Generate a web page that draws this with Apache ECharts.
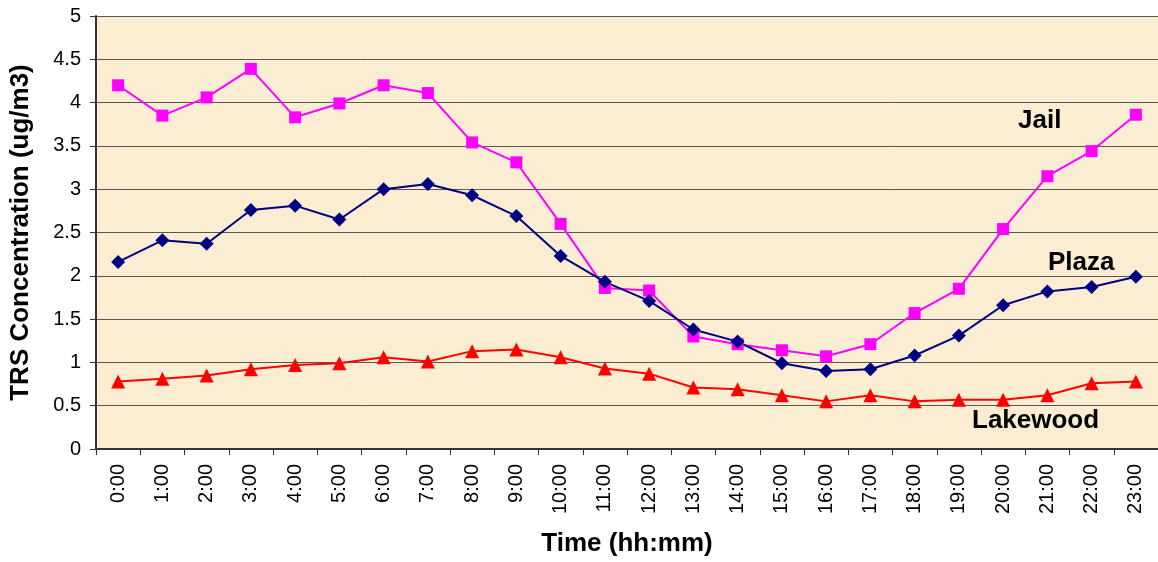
<!DOCTYPE html>
<html>
<head>
<meta charset="utf-8">
<script src="https://cdn.jsdelivr.net/npm/echarts@6/dist/echarts.min.js"></script>
<style>
  html, body { margin: 0; padding: 0; background: #ffffff; }
  #chart { width: 1158px; height: 562px; }
</style>
</head>
<body>
<div id="chart"></div>
<script>
// Hourly TRS concentrations at three monitoring sites
const hours = ['0:00','1:00','2:00','3:00','4:00','5:00','6:00','7:00','8:00','9:00','10:00','11:00',
               '12:00','13:00','14:00','15:00','16:00','17:00','18:00','19:00','20:00','21:00','22:00','23:00'];

const jail = [4.20, 3.85, 4.06, 4.39, 3.83, 3.99, 4.20, 4.11, 3.54, 3.31, 2.60, 1.86,
              1.83, 1.30, 1.21, 1.14, 1.07, 1.21, 1.57, 1.85, 2.54, 3.15, 3.44, 3.86];

const plaza = [2.16, 2.41, 2.37, 2.76, 2.81, 2.65, 3.00, 3.06, 2.93, 2.69, 2.23, 1.93,
               1.71, 1.38, 1.24, 0.99, 0.90, 0.92, 1.08, 1.31, 1.66, 1.82, 1.87, 1.99];

const lakewood = [0.78, 0.81, 0.85, 0.92, 0.97, 0.99, 1.06, 1.01, 1.13, 1.15, 1.06, 0.93,
                  0.87, 0.71, 0.69, 0.62, 0.55, 0.62, 0.55, 0.57, 0.57, 0.62, 0.76, 0.78];

const chart = echarts.init(document.getElementById('chart'));
const font = 'Liberation Sans, Arial, sans-serif';

function lineSeries(name, data, color, symbol, size) {
  return {
    name, type: 'line', data,
    symbol, symbolSize: size,
    lineStyle: { color, width: 2 },
    itemStyle: { color },
    animation: false
  };
}

// Site names placed beside their curves
function siteLabel(text, x, y) {
  return {
    type: 'text', x, y,
    style: { text, font: 'bold 26px ' + font, fill: '#000', verticalAlign: 'middle', align: 'left' }
  };
}

chart.setOption({
  backgroundColor: '#ffffff',
  textStyle: { fontFamily: font },
  grid: {
    left: 96, top: 16, right: 0, bottom: 112,
    show: true, backgroundColor: '#faedd2', borderWidth: 0
  },
  xAxis: {
    type: 'category',
    data: hours,
    boundaryGap: true,
    name: 'Time (hh:mm)',
    nameLocation: 'middle',
    nameGap: 82,
    nameTextStyle: { fontSize: 26, fontWeight: 'bold', color: '#000', fontFamily: font },
    axisLine: { lineStyle: { color: '#333', width: 2 } },
    axisTick: { show: true, length: 6, lineStyle: { color: '#333', width: 1 } },
    axisLabel: { rotate: 90, fontSize: 20, color: '#000', margin: 15, fontFamily: font, interval: 0 },
    splitLine: { show: false }
  },
  yAxis: {
    type: 'value',
    min: 0, max: 5, interval: 0.5,
    name: 'TRS Concentration (ug/m3)',
    nameLocation: 'middle',
    nameGap: 62,
    nameRotate: 90,
    nameTextStyle: { fontSize: 26, fontWeight: 'bold', color: '#000', fontFamily: font },
    axisLine: { show: true, lineStyle: { color: '#333', width: 2 } },
    axisTick: { show: true, length: 6, lineStyle: { color: '#333', width: 1 } },
    axisLabel: { fontSize: 20, color: '#000', margin: 15, fontFamily: font },
    splitLine: { show: true, lineStyle: { color: '#5a5550', width: 1 } }
  },
  series: [
    lineSeries('Jail', jail, '#ff00ff', 'rect', 12),
    lineSeries('Plaza', plaza, '#000080', 'diamond', 14),
    lineSeries('Lakewood', lakewood, '#ff0000', 'triangle', 14)
  ],
  graphic: [
    siteLabel('Jail', 1018, 121),
    siteLabel('Plaza', 1048, 263),
    siteLabel('Lakewood', 972, 421)
  ]
});
</script>
</body>
</html>
